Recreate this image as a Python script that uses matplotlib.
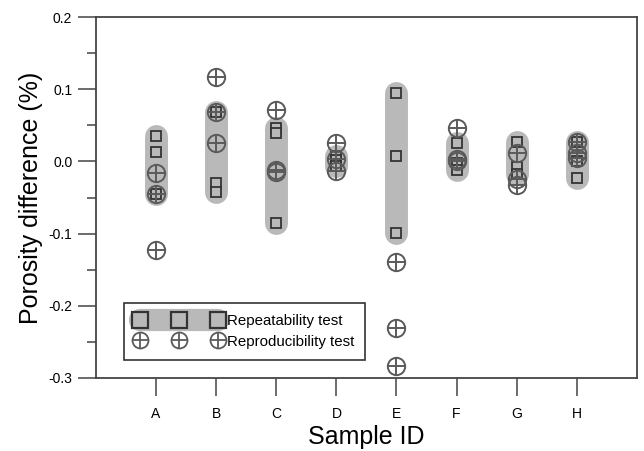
import numpy as np
import matplotlib
matplotlib.use("Agg")
import matplotlib.pyplot as plt
from matplotlib.lines import Line2D
from matplotlib.ticker import MultipleLocator
from matplotlib.legend_handler import HandlerTuple

plt.rcParams['font.family'] = ['Liberation Sans', 'DejaVu Sans']

samples = ['A', 'B', 'C', 'D', 'E', 'F', 'G', 'H']

# porosity differences (%) per sample
repeatability = [
    [0.035, 0.013, -0.045],
    [0.068, -0.030, -0.042],
    [0.046, 0.040, -0.085],
    [0.008, 0.002, -0.006],
    [0.095, 0.007, -0.099],
    [0.025, -0.002, -0.012],
    [0.027, -0.007, -0.017],
    [0.027, 0.000, -0.023],
]
reproducibility = [
    [-0.016, -0.045, -0.123],
    [0.117, 0.069, 0.025],
    [0.071, -0.012, -0.015],
    [0.025, 0.003, -0.013],
    [-0.139, -0.231, -0.283],
    [0.047, 0.003, 0.000],
    [0.012, -0.025, -0.033],
    [0.027, 0.012, 0.005],
]

band = '#b9b9b9'
sq_edge = '#333333'
circ_edge = '#5a5a5a'

fig = plt.figure(figsize=(6.44, 4.51), dpi=100)
ax = fig.add_axes([0.149, 0.162, 0.840, 0.800])

for i, s in enumerate(samples):
    x = i + 1
    rep = repeatability[i]
    ax.plot([x, x], [min(rep), max(rep)], color=band, lw=16.5,
            solid_capstyle='round', zorder=1)
    ax.plot([x] * len(rep), rep, ls='none', marker='s', ms=6.5, mfc=band,
            mec=sq_edge, mew=1.3, zorder=2)
    rpr = reproducibility[i]
    ax.plot([x] * len(rpr), rpr, ls='none', marker='o', ms=12.5, mfc='none',
            mec=circ_edge, mew=1.4, zorder=3)
    ax.plot([x] * len(rpr), rpr, ls='none', marker='+', ms=12.5,
            mec=circ_edge, mew=1.4, zorder=3)

ax.set_xlim(0, 9)
ax.set_ylim(-0.3, 0.2)
ax.set_xticks(range(1, len(samples) + 1))
ax.set_xticklabels(samples)
ax.yaxis.set_major_locator(MultipleLocator(0.1))
ax.yaxis.set_minor_locator(MultipleLocator(0.05))
ax.set_yticklabels([f'{v:.1f}' for v in ax.get_yticks()])

ax.tick_params(axis='both', which='major', direction='out', length=13,
               width=1.1, color='#444444', labelsize=10, pad=4)
ax.tick_params(axis='y', which='minor', direction='out', length=6.5,
               width=1.1, color='#444444')
ax.tick_params(axis='x', pad=8)
for sp in ax.spines.values():
    sp.set_color('#444444')
    sp.set_linewidth(1.3)

ax.set_xlabel('Sample ID', fontsize=18, labelpad=3)
ax.set_ylabel('Porosity difference (%)', fontsize=18, labelpad=4)

# legend handles
h_rep = Line2D([], [], color=band, lw=16, solid_capstyle='round', marker='s',
               ms=11, mfc=band, mec=sq_edge, mew=1.6)
h_circ = Line2D([], [], ls='none', marker='o', ms=11.5, mfc='none',
                mec=circ_edge, mew=1.3)
h_plus = Line2D([], [], ls='none', marker='+', ms=11.5, mec=circ_edge, mew=1.3)
leg = ax.legend([h_rep, (h_circ, h_plus)],
                ['Repeatability test', 'Reproducibility test'],
                handler_map={tuple: HandlerTuple(ndivide=1)},
                loc='lower left', bbox_to_anchor=(0.052, 0.05),
                borderaxespad=0, numpoints=3, handlelength=5.8,
                handletextpad=0.3, labelspacing=0.45, borderpad=0.75,
                fontsize=10.8, fancybox=False, framealpha=1,
                edgecolor='#333333')
leg.get_frame().set_linewidth(1.2)

fig.savefig('out.png', dpi=100)
